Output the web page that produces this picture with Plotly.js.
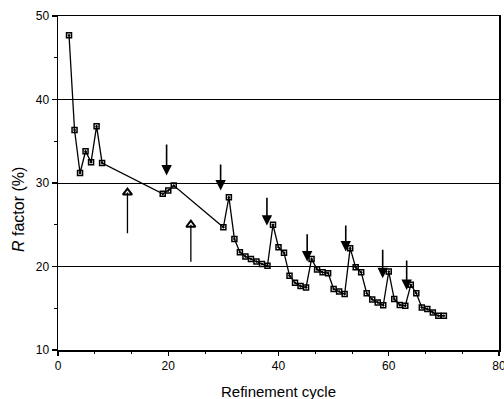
<!DOCTYPE html>
<html>
<head>
<meta charset="utf-8">
<script src="https://cdn.plot.ly/plotly-3.0.1.min.js"></script>
<style>html,body{margin:0;padding:0;background:#fff;}#chart{width:504px;height:399px;}</style>
</head>
<body>
<div id="chart"></div>
<script>
// Refinement cycle vs R factor (%)
const cycle = [2,3,4,5,6,7,8,19,20,21,30,31,32,33,34,35,36,37,38,39,40,41,42,43,44,45,46,47,48,49,50,51,52,53,54,55,56,57,58,59,60,61,62,63,64,65,66,67,68,69,70];
const rfactor = [47.7,36.35,31.2,33.8,32.5,36.8,32.4,28.7,29.1,29.7,24.7,28.3,23.3,21.7,21.2,20.9,20.6,20.3,20.1,25.0,22.3,21.65,18.9,18.05,17.65,17.5,20.9,19.65,19.3,19.2,17.3,17.0,16.7,22.2,19.9,19.3,16.8,16.05,15.7,15.35,19.4,16.1,15.4,15.3,17.8,16.8,15.1,14.9,14.5,14.1,14.1];

// Down arrows (filled heads)
const downArrowX = [19.7, 29.5, 37.9, 45.2, 52.2, 58.9, 63.25];
const downArrowTop = [34.8, 32.4, 28.4, 24.05, 25.1, 22.2, 20.9];
const downArrowTip = [30.9, 29.1, 24.9, 20.6, 21.8, 18.6, 17.2];

// Up arrows (open "A"-shaped heads)
const upArrowX = [12.6, 24.1];
const upArrowBottom = [23.8, 20.4];
const upArrowHead = [28.85, 25.0];

const xTickVals = [0,20,40,60,80];
const yTickVals = [10,20,30,40,50];

const annotations = [];
for (let i = 0; i < downArrowX.length; i++) {
  annotations.push({
    x: downArrowX[i], y: downArrowTip[i], xref: 'x', yref: 'y',
    ax: downArrowX[i], ay: downArrowTop[i], axref: 'x', ayref: 'y',
    text: '', showarrow: true, arrowhead: 2, arrowsize: 1.3, arrowwidth: 1.6, arrowcolor: '#000'
  });
}
for (let i = 0; i < upArrowX.length; i++) {
  annotations.push({
    x: upArrowX[i], y: upArrowHead[i], xref: 'x', yref: 'y',
    ax: upArrowX[i], ay: upArrowBottom[i], axref: 'x', ayref: 'y',
    text: '', showarrow: true, arrowhead: 0, arrowwidth: 1.3, arrowcolor: '#000'
  });
}
annotations.push({
  text: '<i>R</i> factor (%)', textangle: -90, xref: 'paper', yref: 'paper',
  x: -0.09, y: 0.42, xanchor: 'center', yanchor: 'middle', showarrow: false,
  font: {family: 'Liberation Sans, Arial, sans-serif', size: 16, color: '#000'}
});
annotations.push({
  text: 'Refinement cycle', xref: 'paper', yref: 'paper',
  x: 0.5, y: -0.123, xanchor: 'center', yanchor: 'middle', showarrow: false,
  font: {family: 'Liberation Sans, Arial, sans-serif', size: 15, color: '#000'}
});

const traces = [
  {
    x: cycle, y: rfactor, type: 'scatter', mode: 'lines+markers',
    line: {color: '#000', width: 1.3},
    marker: {symbol: 'square-open-dot', size: 5, color: '#000', line: {color: '#000', width: 1.5}},
    hoverinfo: 'skip'
  },
  {
    x: upArrowX, y: upArrowHead, type: 'scatter', mode: 'markers',
    marker: {symbol: 'triangle-up-open', size: 8, color: '#000', line: {color: '#000', width: 2}},
    hoverinfo: 'skip'
  }
];

const layout = {
  width: 504, height: 399,
  margin: {l: 58, r: 5, t: 16, b: 49},
  paper_bgcolor: '#fff', plot_bgcolor: '#fff',
  showlegend: false,
  font: {family: 'Liberation Sans, Arial, sans-serif', size: 12, color: '#000'},
  xaxis: {
    range: [0, 80], tickvals: xTickVals, ticktext: xTickVals.map(String),
    ticks: 'outside', ticklen: 4, tickwidth: 1.2, tickcolor: '#000',
    ticklabeloverflow: 'allow',
    showgrid: false, zeroline: false,
    showline: true, linecolor: '#000', linewidth: 1.5, mirror: true,
    minor: {dtick: 20/3, tick0: 0, ticks: 'outside', ticklen: 2, tickcolor: '#000', tickwidth: 1},
    tickfont: {size: 12}
  },
  yaxis: {
    range: [10, 50], tickvals: yTickVals, ticktext: yTickVals.map(String),
    ticks: 'outside', ticklen: 5, tickwidth: 1.2, tickcolor: '#000',
    showgrid: true, gridcolor: '#000', gridwidth: 1, zeroline: false,
    showline: true, linecolor: '#000', linewidth: 1.5, mirror: true,
    minor: {dtick: 5, ticks: 'outside', ticklen: 3, tickcolor: '#000', tickwidth: 1},
    tickfont: {size: 12}
  },
  annotations: annotations
};

Plotly.newPlot('chart', traces, layout, {displayModeBar: false, staticPlot: true});
</script>
</body>
</html>
